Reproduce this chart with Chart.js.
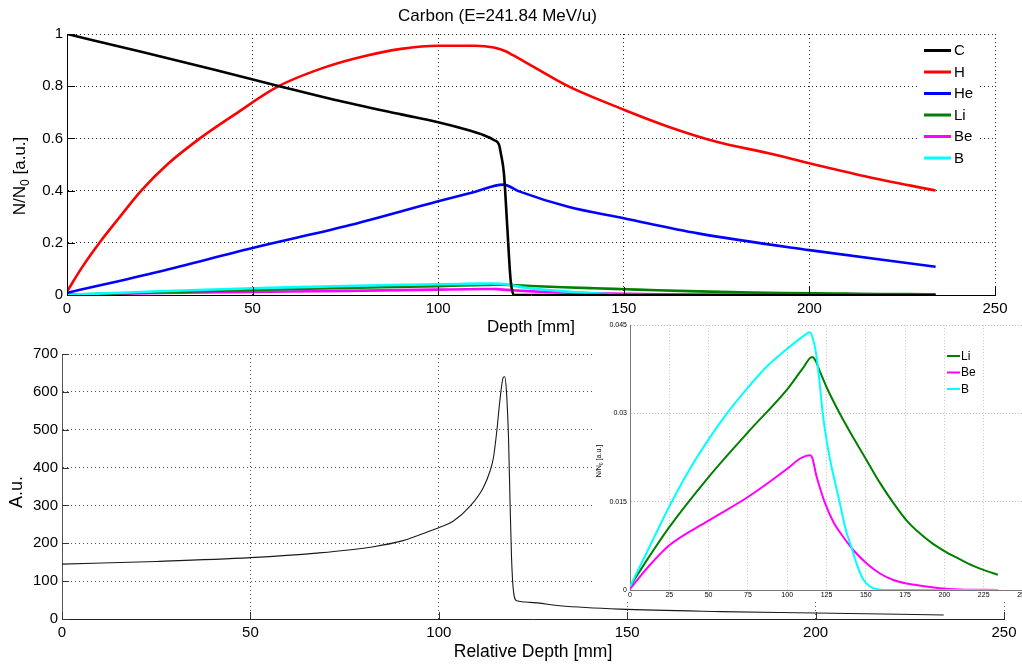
<!DOCTYPE html>
<html><head><meta charset="utf-8">
<script src="https://cdn.jsdelivr.net/npm/chart.js@4.4.0/dist/chart.umd.min.js"></script>
<style>
html,body{margin:0;padding:0;background:#fff;overflow:hidden;width:1022px;height:667px;position:relative;}
canvas{position:absolute;display:block;}
#top{left:0;top:0;width:1022px;height:340px;}
#bottom{left:0;top:340px;width:1022px;height:327px;}
#inset{left:592px;top:318px;width:445px;height:283px;background:#fff;}
</style></head><body>
<canvas id="top" width="1022" height="340"></canvas>
<canvas id="bottom" width="1022" height="327"></canvas>
<canvas id="inset" width="445" height="283"></canvas>
<script>
// ---------------- data ----------------
const topTitle = 'Carbon (E=241.84 MeV/u)';
const seriesLabels = ['C', 'H', 'He', 'Li', 'Be', 'B'];

const depthC = [0, 20, 40, 58, 72, 90, 100, 108, 112.3, 115, 116.4, 116.8, 117.7, 118.6, 119.5, 120.4, 122, 234];
const valC   = [1.0, 0.932, 0.862, 0.797, 0.748, 0.692, 0.662, 0.632, 0.612, 0.594, 0.575, 0.548, 0.467, 0.263, 0.059, 0.0, 0, 0];

const depthH = [0, 4, 9, 14, 20, 27, 35.8, 45, 57, 70, 80, 90, 100, 110, 115, 118, 120, 125.6, 135, 150, 162, 175, 189, 200, 215, 234];
const valH   = [0.013, 0.105, 0.205, 0.295, 0.4, 0.5, 0.6, 0.69, 0.8, 0.875, 0.915, 0.943, 0.955, 0.955, 0.948, 0.935, 0.92, 0.875, 0.80, 0.71, 0.645, 0.587, 0.543, 0.505, 0.455, 0.40];

const depthHe = [0, 25, 50, 75, 100, 110, 117.5, 122, 135, 150, 170, 200, 234];
const valHe   = [0.008, 0.09, 0.18, 0.263, 0.359, 0.396, 0.423, 0.396, 0.338, 0.294, 0.236, 0.172, 0.108];

const depthLi = [0, 12.5, 25, 50, 75, 100, 110, 115.8, 118, 121, 125, 133.6, 142, 150.6, 159, 167.5, 176, 184.5, 193, 201.4, 210, 218.4, 227, 234];
const valLi   = [0.0006, 0.0058, 0.0107, 0.0192, 0.0268, 0.0341, 0.0377, 0.0396, 0.039, 0.037, 0.0345, 0.0299, 0.0259, 0.022, 0.0182, 0.0148, 0.0118, 0.0096, 0.0078, 0.0064, 0.0052, 0.0041, 0.0032, 0.0026];

const depthBe = [0, 12.5, 25, 50, 75, 100, 108, 112, 114.5, 116, 118.5, 121, 124, 129.3, 135.7, 142, 150.6, 159, 167.5, 176, 188.7, 197, 210, 234];
const valBe   = [0.0002, 0.0042, 0.0076, 0.0118, 0.0158, 0.0206, 0.0223, 0.0228, 0.0229, 0.0224, 0.0195, 0.0172, 0.0148, 0.0116, 0.009, 0.0068, 0.0045, 0.0028, 0.0017, 0.0011, 0.0006, 0.0003, 0.0001, 0];

const depthB = [0, 12.5, 25, 37.5, 50, 62.5, 75, 87.5, 100, 106, 112, 114.3, 116.6, 118.5, 120.5, 122.6, 125, 128, 133.3, 137, 140.8, 144.5, 148.4, 152.7, 158, 163, 234];
const valB   = [0.0006, 0.0074, 0.0142, 0.0203, 0.0256, 0.0303, 0.0344, 0.0381, 0.041, 0.0423, 0.0435, 0.0438, 0.0425, 0.040, 0.0355, 0.030, 0.0255, 0.0212, 0.015, 0.0105, 0.0073, 0.0042, 0.0018, 0.0006, 0.0001, 0, 0];

const depthDose = [0, 25, 50, 67.5, 82.7, 90.5, 94.8, 100, 103.8, 108.3, 111.8, 113.6, 114.5, 115.4, 116.2, 117.1, 117.5, 118, 118.5, 118.9, 119.3, 119.8, 120.7, 124.2, 132.1, 148, 175, 200, 234];
const valDose   = [145, 152, 162, 174, 191, 207, 222, 241, 258, 298, 347, 391, 426, 497, 576, 638, 640, 594, 479, 312, 163, 75, 48, 44, 35, 26, 19.5, 16, 10.5];

const topXTicks = [0, 50, 100, 150, 200, 250];
const topXTickLabels = ['0', '50', '100', '150', '200', '250'];
const topYTicks = [0, 0.2, 0.4, 0.6, 0.8, 1];
const topYTickLabels = ['0', '0.2', '0.4', '0.6', '0.8', '1'];
const botXTicks = [0, 50, 100, 150, 200, 250];
const botXTickLabels = ['0', '50', '100', '150', '200', '250'];
const botYTicks = [0, 100, 200, 300, 400, 500, 600, 700];
const botYTickLabels = ['0', '100', '200', '300', '400', '500', '600', '700'];
const insetXTicks = [0, 25, 50, 75, 100, 125, 150, 175, 200, 225, 250];
const insetXTickLabels = ['0', '25', '50', '75', '100', '125', '150', '175', '200', '225', '250'];
const insetYTicks = [0, 0.015, 0.03, 0.045];
const insetYTickLabels = ['0', '0.015', '0.03', '0.045'];

const topXTitle = 'Depth [mm]';
const botXTitle = 'Relative Depth [mm]';
const botYTitle = 'A.u.';
const yTitleParts = ['N/N', '0', ' [a.u.]'];

// ---------------- styling ----------------
const FONT = '"Liberation Sans", Arial, Helvetica, sans-serif';
const seriesColors = ['#000000', '#ff0000', '#0000ff', '#008000', '#ff00ff', '#00ffff'];
const seriesOrder = [0, 1, 2, 4, 5, 3];
const allDepths = [depthC, depthH, depthHe, depthLi, depthBe, depthB];
const allVals = [valC, valH, valHe, valLi, valBe, valB];

function pts(xs, ys) { return xs.map((x, i) => ({ x: x, y: ys[i] })); }

function makeDs(i, width) {
  return {
    label: seriesLabels[i],
    data: pts(allDepths[i], allVals[i]),
    borderColor: seriesColors[i],
    backgroundColor: seriesColors[i],
    borderWidth: width,
    pointRadius: 0,
    fill: false,
    cubicInterpolationMode: 'monotone',
    order: seriesOrder[i]
  };
}

function setTicks(arr) { return function (s) { s.ticks = arr.map(v => ({ value: v })); }; }
function labelsFrom(arr) { return function (v, i) { return arr[i]; }; }

function drawSubTitle(ctx, cx, cy, size) {
  ctx.save();
  ctx.translate(cx, cy);
  ctx.rotate(-Math.PI / 2);
  ctx.fillStyle = '#000';
  ctx.textBaseline = 'middle';
  ctx.textAlign = 'left';
  ctx.font = size + 'px ' + FONT;
  const w1 = ctx.measureText(yTitleParts[0]).width;
  const w3 = ctx.measureText(yTitleParts[2]).width;
  ctx.font = (size * 0.72) + 'px ' + FONT;
  const w2 = ctx.measureText(yTitleParts[1]).width;
  let x = -(w1 + w2 + w3) / 2;
  ctx.font = size + 'px ' + FONT;
  ctx.fillText(yTitleParts[0], x, 0);
  ctx.font = (size * 0.72) + 'px ' + FONT;
  ctx.fillText(yTitleParts[1], x + w1, size * 0.32);
  ctx.font = size + 'px ' + FONT;
  ctx.fillText(yTitleParts[2], x + w1 + w2, 0);
  ctx.restore();
}

function inwardTicks(len, color) {
  return {
    id: 'inwardTicks',
    afterDraw(chart) {
      const ctx = chart.ctx, a = chart.chartArea;
      const xs = chart.scales.x, ys = chart.scales.y;
      ctx.save();
      ctx.strokeStyle = color;
      ctx.lineWidth = 1;
      ctx.beginPath();
      xs.ticks.forEach(t => {
        const p = Math.round(xs.getPixelForValue(t.value)) + 0.5;
        ctx.moveTo(p, a.bottom);
        ctx.lineTo(p, a.bottom - len);
      });
      ys.ticks.forEach(t => {
        const p = Math.round(ys.getPixelForValue(t.value)) + 0.5;
        ctx.moveTo(a.left, p);
        ctx.lineTo(a.left + len, p);
      });
      ctx.stroke();
      ctx.restore();
    }
  };
}

Chart.defaults.font.family = FONT;
Chart.defaults.color = '#000';

// ---------------- top chart ----------------
const topLegend = {
  id: 'topLegend',
  afterDraw(chart) {
    const ctx = chart.ctx;
    ctx.save();
    ctx.fillStyle = '#fff';
    ctx.fillRect(919, 38, 60, 132);
    ctx.font = '15px ' + FONT;
    ctx.textBaseline = 'middle';
    ctx.textAlign = 'left';
    seriesLabels.forEach((lab, i) => {
      const y = 50.5 + i * 21.5;
      ctx.strokeStyle = seriesColors[i];
      ctx.lineWidth = 3;
      ctx.beginPath();
      ctx.moveTo(924, y);
      ctx.lineTo(951, y);
      ctx.stroke();
      ctx.fillStyle = '#000';
      ctx.fillText(lab, 954, y + 0.5);
    });
    drawSubTitle(ctx, 20, 176, 17);
    ctx.restore();
  }
};

new Chart(document.getElementById('top'), {
  type: 'line',
  data: { datasets: [0, 1, 2, 3, 4, 5].map(i => makeDs(i, 2.6)) },
  options: {
    responsive: false, animation: false, devicePixelRatio: 1,
    layout: { padding: { left: 0, right: 27, top: 0, bottom: 0 } },
    plugins: {
      legend: { display: false }, tooltip: { enabled: false },
      title: { display: true, text: topTitle, color: '#000', font: { family: FONT, size: 17, weight: 'normal' }, padding: { top: 6, bottom: 7.6 } }
    },
    scales: {
      x: {
        type: 'linear', min: 0, max: 250,
        afterBuildTicks: setTicks(topXTicks),
        afterFit: s => { s.height = 45; },
        ticks: { autoSkip: false, maxRotation: 0, padding: 5, color: '#000', font: { size: 15 }, callback: labelsFrom(topXTickLabels) },
        grid: { color: '#222', lineWidth: 1, drawTicks: false },
        border: { display: true, color: '#000', width: 1, dash: [1, 3] },
        title: { display: true, text: topXTitle, color: '#000', font: { size: 17 }, padding: { top: 0, bottom: 2 } }
      },
      y: {
        type: 'linear', min: 0, max: 1,
        afterBuildTicks: setTicks(topYTicks),
        afterFit: s => { s.width = 67; },
        ticks: { autoSkip: false, padding: 4, color: '#000', font: { size: 15 }, callback: labelsFrom(topYTickLabels) },
        grid: { color: '#222', lineWidth: 1, drawTicks: false },
        border: { display: true, color: '#000', width: 1, dash: [1, 3] }
      }
    }
  },
  plugins: [inwardTicks(8, '#000'), topLegend]
});

// ---------------- bottom chart ----------------
const botTitlePlugin = {
  id: 'botTitle',
  afterDraw(chart) {
    const ctx = chart.ctx;
    ctx.save();
    ctx.translate(17, 152);
    ctx.rotate(-Math.PI / 2);
    ctx.font = '18px ' + FONT;
    ctx.fillStyle = '#000';
    ctx.textAlign = 'center';
    ctx.textBaseline = 'middle';
    ctx.fillText(botYTitle, 0, 0);
    ctx.restore();
  }
};

new Chart(document.getElementById('bottom'), {
  type: 'line',
  data: {
    datasets: [{
      label: 'dose', data: pts(depthDose, valDose), borderColor: '#1a1a1a', borderWidth: 1.1,
      pointRadius: 0, fill: false, cubicInterpolationMode: 'monotone'
    }]
  },
  options: {
    responsive: false, animation: false, devicePixelRatio: 1,
    layout: { padding: { left: 0, right: 18, top: 14, bottom: 0 } },
    plugins: { legend: { display: false }, tooltip: { enabled: false }, title: { display: false } },
    scales: {
      x: {
        type: 'linear', min: 0, max: 250,
        afterBuildTicks: setTicks(botXTicks),
        afterFit: s => { s.height = 48; },
        ticks: { autoSkip: false, maxRotation: 0, padding: 5, color: '#000', font: { size: 15 }, callback: labelsFrom(botXTickLabels) },
        grid: { color: '#555', lineWidth: 1, drawTicks: false },
        border: { display: true, color: '#222', width: 1, dash: [1, 3] },
        title: { display: true, text: botXTitle, color: '#000', font: { size: 17.5 }, padding: { top: 0, bottom: 4 } }
      },
      y: {
        type: 'linear', min: 0, max: 700,
        afterBuildTicks: setTicks(botYTicks),
        afterFit: s => { s.width = 62; },
        ticks: { autoSkip: false, padding: 4, color: '#000', font: { size: 15 }, callback: labelsFrom(botYTickLabels) },
        grid: { color: '#555', lineWidth: 1, drawTicks: false },
        border: { display: true, color: '#555', width: 1, dash: [1, 3] }
      }
    }
  },
  plugins: [inwardTicks(7, '#333'), botTitlePlugin]
});

// ---------------- inset chart ----------------
const insetExtras = {
  id: 'insetExtras',
  afterDraw(chart) {
    const ctx = chart.ctx;
    ctx.save();
    drawSubTitle(ctx, 7, 143, 7);
    ctx.font = '12px ' + FONT;
    ctx.textBaseline = 'middle';
    ctx.textAlign = 'left';
    [3, 4, 5].forEach((i, k) => {
      const y = 38 + k * 16.5;
      ctx.strokeStyle = seriesColors[i];
      ctx.lineWidth = 2;
      ctx.beginPath();
      ctx.moveTo(355, y);
      ctx.lineTo(368, y);
      ctx.stroke();
      ctx.fillStyle = '#000';
      ctx.fillText(seriesLabels[i], 369, y + 0.5);
    });
    ctx.restore();
  }
};

new Chart(document.getElementById('inset'), {
  type: 'line',
  data: { datasets: [3, 4, 5].map(i => makeDs(i, 2)) },
  options: {
    responsive: false, animation: false, devicePixelRatio: 1,
    layout: { padding: { left: 0, right: 14, top: 6, bottom: 0 } },
    plugins: { legend: { display: false }, tooltip: { enabled: false }, title: { display: false } },
    scales: {
      x: {
        type: 'linear', min: 0, max: 250,
        afterBuildTicks: setTicks(insetXTicks),
        afterFit: s => { s.height = 11; },
        ticks: { autoSkip: false, maxRotation: 0, padding: 1, color: '#000', font: { size: 7 }, callback: labelsFrom(insetXTickLabels) },
        grid: { color: '#c4c4c4', lineWidth: 1, drawTicks: false },
        border: { display: true, color: '#777', width: 1, dash: [1, 2] }
      },
      y: {
        type: 'linear', min: 0, max: 0.045,
        afterBuildTicks: setTicks(insetYTicks),
        afterFit: s => { s.width = 38; },
        ticks: { autoSkip: false, padding: 3, color: '#000', font: { size: 7 }, callback: labelsFrom(insetYTickLabels) },
        grid: { color: '#c4c4c4', lineWidth: 1, drawTicks: false },
        border: { display: true, color: '#777', width: 1, dash: [1, 2] }
      }
    }
  },
  plugins: [insetExtras]
});
</script>
</body></html>
